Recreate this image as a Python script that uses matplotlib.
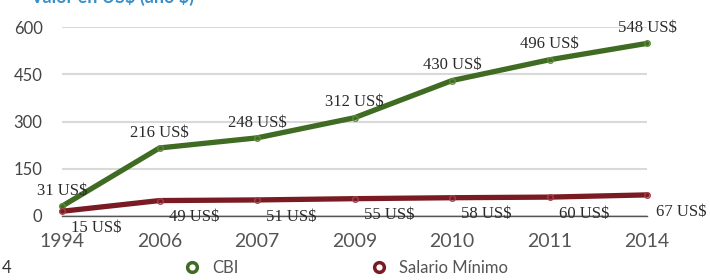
import matplotlib
matplotlib.use("Agg")
import matplotlib.pyplot as plt
from matplotlib.lines import Line2D

years = ["1994", "2006", "2007", "2009", "2010", "2011", "2014"]
cbi = [31, 216, 248, 312, 430, 496, 548]
salario = [15, 49, 51, 55, 58, 60, 67]
yticks = [0, 150, 300, 450, 600]
series_names = ["CBI", "Salario Mínimo"]

green = "#3f6b22"
red = "#7a1a22"
tick_font = "Lato"
label_font = "Liberation Serif"

fig = plt.figure(figsize=(7.1, 2.8), dpi=100)
ax = fig.add_axes([62 / 710, 1 - 216 / 280, (647 - 62) / 710, (216 - 27) / 280])

x = list(range(len(years)))
ax.plot(x, cbi, color=green, lw=3.8, solid_capstyle="round", marker="o", ms=4,
        mfc="none", mec="#5d8a3a", mew=1, clip_on=False, zorder=4)
ax.plot(x, salario, color=red, lw=3.8, solid_capstyle="round", marker="o", ms=4,
        mfc="none", mec="#a04048", mew=1, clip_on=False, zorder=4)

ax.set_xlim(0, len(years) - 1)
ax.set_ylim(0, 600)
ax.set_yticks(yticks)
ax.set_yticklabels([str(v) for v in yticks], fontfamily=tick_font, fontsize=12, color="#444444")
ax.set_xticks(x)
ax.set_xticklabels(years, fontfamily=tick_font, fontsize=14, color="#555555")
ax.tick_params(axis="y", length=0, pad=14)
ax.tick_params(axis="x", length=0, pad=12)
for s in ["top", "right", "left"]:
    ax.spines[s].set_visible(False)
ax.spines["bottom"].set_color("#555555")
ax.spines["bottom"].set_linewidth(1.0)
ax.spines["bottom"].set_zorder(5)
ax.grid(axis="y", color="#d9d9d9", lw=1.5)
ax.set_axisbelow(True)

lab_kw = dict(fontfamily=label_font, fontsize=12, color="#2a2a2a",
              ha="center", va="center", textcoords="offset points", annotation_clip=False)
for i, v in enumerate(cbi):
    ax.annotate(f"{v} US$", (i, v), xytext=(0, 11), zorder=6, **lab_kw)
for i, v in enumerate(salario):
    ax.annotate(f"{v} US$", (i, v), xytext=(25, -12), zorder=6, **lab_kw)

handles = [
    Line2D([], [], ls="none", marker="o", ms=7, mfc="white", mec=green, mew=2.5),
    Line2D([], [], ls="none", marker="o", ms=7, mfc="white", mec=red, mew=2.5),
]
fig.legend(handles, series_names, loc="center", bbox_to_anchor=(346 / 710, 1 - 268 / 280),
           ncol=2, frameon=False, handlelength=1.0, handletextpad=0.7, columnspacing=7.9,
           prop={"family": tick_font, "size": 12}, labelcolor="#555555")

fig.text(30 / 710, 1 - 3 / 280, "Valor en US\\$ (año \\$)", color="#3a8fc9", fontsize=13,
         fontweight="bold", fontfamily=tick_font, ha="left", va="baseline")
fig.text(2 / 710, 1 - 268 / 280, "4", color="#333333", fontsize=12, fontfamily=tick_font,
         ha="left", va="center")

fig.savefig("out.png", dpi=100)
